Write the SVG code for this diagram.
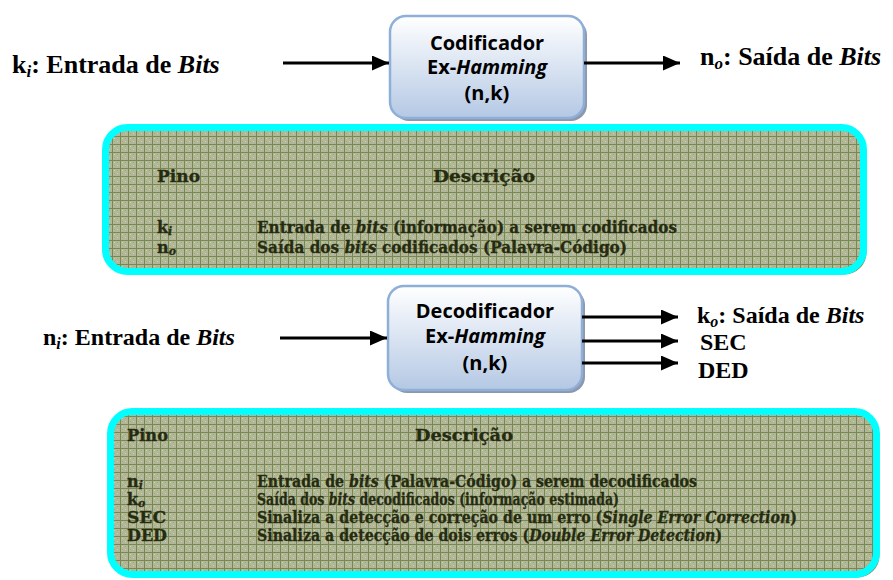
<svg xmlns="http://www.w3.org/2000/svg" width="893" height="580" viewBox="0 0 893 580">
<defs>
  <pattern id="grid" width="8" height="8" patternUnits="userSpaceOnUse">
    <rect width="8" height="8" fill="#b1b797"/>
    <rect x="2" y="2" width="1" height="1" fill="#c9cdb2"/>
    <rect x="5" y="5" width="1" height="1" fill="#c9cdb2"/>
    <rect x="2" y="5" width="1" height="1" fill="#a3aa88"/>
    <rect x="5" y="2" width="1" height="1" fill="#a3aa88"/>
    <path d="M0 0.5H8M0.5 0V8" stroke="#788851" stroke-width="1" fill="none"/>
  </pattern>
  <linearGradient id="nodeFill" x1="0" y1="0" x2="0" y2="1">
    <stop offset="0" stop-color="#ffffff"/>
    <stop offset="1" stop-color="#b4c8e4"/>
  </linearGradient>
  <marker id="arrow" markerUnits="userSpaceOnUse" markerWidth="17" markerHeight="15" refX="17" refY="7.5" orient="auto">
    <path d="M0 0L17 7.5L0 15Z" fill="#000"/>
  </marker>
  <style>
    .node { fill: url(#nodeFill); stroke: #8eafd8; stroke-width: 2.5; }
    .nshadow { fill: #8e97ab; }
    .ntext { font-family: "Open Sans", "Noto Sans", sans-serif; font-weight: 700; font-size: 20px; fill: #000; text-anchor: middle; }
    .io { font-family: "Liberation Serif", "Times New Roman", serif; font-weight: 700; fill: #000; }
    .table { fill: url(#grid); stroke: #00ffff; stroke-width: 7; }
    .tshadow { fill: #868c6c; }
    .tt { font-family: "DejaVu Serif", "Liberation Serif", serif; font-weight: 700; font-size: 16px; fill: #262b10; stroke: #262b10; stroke-width: 0.3; }
    .conn { stroke: #000; stroke-width: 3; fill: none; marker-end: url(#arrow); }
    .sub { font-style: italic; }
  </style>
</defs>
<rect width="893" height="580" fill="#ffffff"/>

<g id="encoder-input-label">
  <text class="io" x="12" y="73" font-size="26">k<tspan class="sub" font-size="17" dy="4">i</tspan><tspan dy="-4">: Entrada de </tspan><tspan font-style="italic">Bits</tspan></text>
</g>

<g id="encoder">
  <rect class="nshadow" x="393" y="19" width="194" height="102" rx="16"/>
  <rect class="node" x="390" y="16" width="194" height="102" rx="16"/>
  <text class="ntext" x="487" y="50">Codificador</text>
  <text class="ntext" x="487" y="74">Ex-<tspan font-style="italic">Hamming</tspan></text>
  <text class="ntext" x="487" y="100">(n,k)</text>
</g>

<g id="encoder-output-label">
  <text class="io" x="700" y="65" font-size="26">n<tspan class="sub" font-size="17" dy="4">o</tspan><tspan dy="-4">:  Saída de </tspan><tspan font-style="italic">Bits</tspan></text>
</g>

<g id="encoder-table">
  <rect class="tshadow" x="108.5" y="130.5" width="758" height="144" rx="22"/>
  <rect class="table" x="105.5" y="127.5" width="758" height="144" rx="22"/>
  <text class="tt" x="157" y="182" textLength="43" lengthAdjust="spacingAndGlyphs">Pino</text>
  <text class="tt" x="433" y="182" textLength="102" lengthAdjust="spacingAndGlyphs">Descrição</text>
  <text class="tt" x="157" y="233">k<tspan class="sub" font-size="11" dy="2">i</tspan></text>
  <text class="tt" x="257" y="233" textLength="420" lengthAdjust="spacingAndGlyphs">Entrada de <tspan font-style="italic">bits</tspan> (informação) a serem codificados</text>
  <text class="tt" x="157" y="253">n<tspan class="sub" font-size="11" dy="2">o</tspan></text>
  <text class="tt" x="257" y="253" textLength="370" lengthAdjust="spacingAndGlyphs">Saída dos <tspan font-style="italic">bits</tspan> codificados (Palavra-Código)</text>
</g>

<g id="decoder-input-label">
  <text class="io" x="43" y="345" font-size="24">n<tspan class="sub" font-size="16" dy="4">i</tspan><tspan dy="-4">: Entrada de </tspan><tspan font-style="italic">Bits</tspan></text>
</g>

<g id="decoder">
  <rect class="nshadow" x="391" y="289" width="194" height="104" rx="16"/>
  <rect class="node" x="388" y="286" width="194" height="104" rx="16"/>
  <text class="ntext" x="485" y="318">Decodificador</text>
  <text class="ntext" x="485" y="343">Ex-<tspan font-style="italic">Hamming</tspan></text>
  <text class="ntext" x="485" y="370">(n,k)</text>
</g>

<g id="decoder-output-labels">
  <text class="io" x="697" y="323" font-size="24">k<tspan class="sub" font-size="16" dy="4">o</tspan><tspan dy="-4">: Saída de </tspan><tspan font-style="italic">Bits</tspan></text>
  <text class="io" x="700" y="350" font-size="24">SEC</text>
  <text class="io" x="698" y="378" font-size="24">DED</text>
</g>

<g id="decoder-table">
  <rect class="tshadow" x="113.5" y="414.5" width="766" height="163" rx="22"/>
  <rect class="table" x="110.5" y="411.5" width="766" height="163" rx="22"/>
  <text class="tt" x="127" y="441" textLength="41" lengthAdjust="spacingAndGlyphs">Pino</text>
  <text class="tt" x="415" y="441" textLength="98" lengthAdjust="spacingAndGlyphs">Descrição</text>
  <text class="tt" x="127" y="487">n<tspan class="sub" font-size="11" dy="2">i</tspan></text>
  <text class="tt" x="257" y="487" textLength="440" lengthAdjust="spacingAndGlyphs">Entrada de <tspan font-style="italic">bits</tspan> (Palavra-Código) a serem decodificados</text>
  <text class="tt" x="127" y="505">k<tspan class="sub" font-size="11" dy="2">o</tspan></text>
  <text class="tt" x="257" y="505" textLength="362" lengthAdjust="spacingAndGlyphs">Saída dos <tspan font-style="italic">bits</tspan> decodificados (informação estimada)</text>
  <text class="tt" x="127" y="523" textLength="39" lengthAdjust="spacingAndGlyphs">SEC</text>
  <text class="tt" x="257" y="523" textLength="540" lengthAdjust="spacingAndGlyphs">Sinaliza a detecção e correção de um erro (<tspan font-style="italic">Single Error Correction</tspan>)</text>
  <text class="tt" x="127" y="541" textLength="40" lengthAdjust="spacingAndGlyphs">DED</text>
  <text class="tt" x="257" y="541" textLength="465" lengthAdjust="spacingAndGlyphs">Sinaliza a detecção de dois erros (<tspan font-style="italic">Double Error Detection</tspan>)</text>
</g>

<g id="connectors">
  <line class="conn" x1="283" y1="63" x2="389" y2="63"/>
  <line class="conn" x1="584" y1="63" x2="680" y2="63"/>
  <line class="conn" x1="280" y1="338" x2="387" y2="338"/>
  <line class="conn" x1="582" y1="317" x2="678" y2="317"/>
  <line class="conn" x1="582" y1="341" x2="678" y2="341"/>
  <line class="conn" x1="582" y1="363" x2="678" y2="363"/>
</g>
</svg>
